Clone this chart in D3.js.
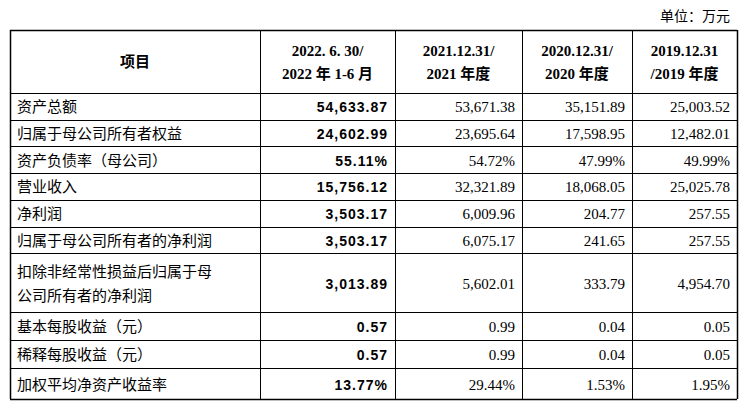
<!DOCTYPE html>
<html>
<head>
<meta charset="utf-8">
<script src="https://cdn.jsdelivr.net/npm/d3@7"></script>
<style>
  body { margin:0; background:#fff; }
  text { font-family: "Liberation Serif", "Noto Sans CJK SC", serif; fill:#000; }
</style>
</head>
<body>
<script>
// table data
var headers = [["项目"], ["2022. 6. 30/", "2022 年 1-6 月"], ["2021.12.31/", "2021 年度"], ["2020.12.31/", "2020 年度"], ["2019.12.31", "/2019 年度"]]
var items = ["资产总额", "归属于母公司所有者权益", "资产负债率（母公司）", "营业收入", "净利润",
  "归属于母公司所有者的净利润", "扣除非经常性损益后归属于母|公司所有者的净利润", "基本每股收益（元）", "稀释每股收益（元）", "加权平均净资产收益率"]
var v2022 = ["54,633.87", "24,602.99", "55.11%", "15,756.12", "3,503.17", "3,503.17", "3,013.89", "0.57", "0.57", "13.77%"]
var v2021 = ["53,671.38", "23,695.64", "54.72%", "32,321.89", "6,009.96", "6,075.17", "5,602.01", "0.99", "0.99", "29.44%"]
var v2020 = ["35,151.89", "17,598.95", "47.99%", "18,068.05", "204.77", "241.65", "333.79", "0.04", "0.04", "1.53%"]
var v2019 = ["25,003.52", "12,482.01", "49.99%", "25,025.78", "257.55", "257.55", "4,954.70", "0.05", "0.05", "1.95%"]
var rowUnits = [1, 1, 1, 1, 1, 1, 2.2, 1.05, 1.05, 1.15]

var W = 745, H = 412
var svg = d3.select("body").append("svg").attr("width", W).attr("height", H)

var colEdges = [10, 260, 395, 522, 632, 737]
var headUnits = 2.35
var cum = [0, headUnits]
rowUnits.forEach(function(u){ cum.push(cum[cum.length-1] + u) })
var y = d3.scaleLinear().domain([0, cum[cum.length-1]]).range([30, 399])

svg.append("text").attr("x", 730).attr("y", 21).attr("text-anchor", "end")
  .style("font-size", "14px").text("单位：万元")

// grid
var g = svg.append("g").attr("stroke", "#000").attr("stroke-width", 1)
g.selectAll(".h").data(cum).enter().append("line")
  .attr("x1", colEdges[0]).attr("x2", colEdges[5])
  .attr("y1", function(d){ return Math.round(y(d)) + 0.5 }).attr("y2", function(d){ return Math.round(y(d)) + 0.5 })
  .attr("stroke-width", function(d, i){ return (i == 0 || i == cum.length-1) ? 1.5 : 1 })
g.selectAll(".v").data(colEdges).enter().append("line")
  .attr("x1", function(d){ return d + 0.5 }).attr("x2", function(d){ return d + 0.5 })
  .attr("y1", y(0)).attr("y2", y(cum[cum.length-1]))
  .attr("stroke-width", function(d, i){ return (i == 0 || i == 5) ? 1.5 : 1 })

// header
headers.forEach(function(h, c){
  var cx = (colEdges[c] + colEdges[c+1]) / 2
  var mid = (y(0) + y(headUnits)) / 2
  h.forEach(function(line, k){
    svg.append("text").attr("x", cx).attr("y", mid + (k - (h.length-1)/2) * 23 + 6)
      .attr("text-anchor", "middle").style("font-size", "15px").style("font-weight", "bold")
      .text(line)
  })
})

var cols = [v2022, v2021, v2020, v2019]
items.forEach(function(name, i){
  var top = y(cum[i+1]), bot = y(cum[i+2]), mid = (top + bot) / 2
  var lines = name.split("|")
  lines.forEach(function(line, k){
    svg.append("text").attr("x", 17).attr("y", mid + (k - (lines.length-1)/2) * 24 + 6)
      .style("font-size", "15px").text(line)
  })
  cols.forEach(function(vals, c){
    var t = svg.append("text").attr("x", colEdges[c+2] - 7).attr("y", mid + 6)
      .attr("text-anchor", "end").style("font-size", "15px").text(vals[i])
    if (c == 0) t.style("font-weight", "bold").style("font-family", "'Liberation Sans', sans-serif")
      .style("letter-spacing", "1px").style("font-size", "14px")
  })
})
</script>
</body>
</html>
